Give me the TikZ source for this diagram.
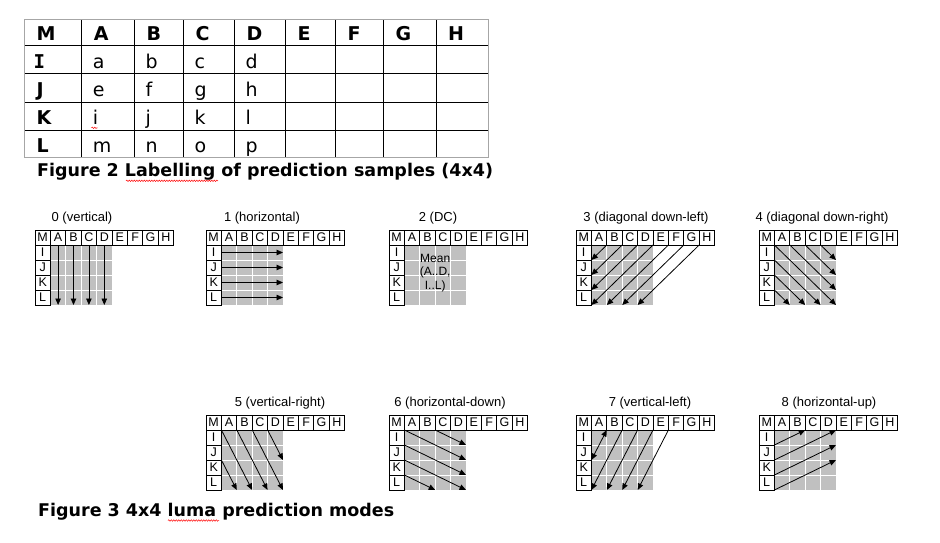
\documentclass[tikz,border=0pt]{standalone}
\usepackage{fontspec}
\setmainfont{DejaVu Sans}
\setmonofont{DejaVu Sans Mono}
\newfontfamily\arialf{Liberation Sans}
\usetikzlibrary{arrows.meta,decorations.pathmorphing,calc}
\definecolor{gridgray}{HTML}{C0C0C0}
\definecolor{framegray}{HTML}{A6A6A6}
\newcommand\cellw{15.4}
\newcommand\cellh{15}
\tikzset{
  gcell/.style={draw=black,line width=0.8pt,minimum width=\cellw pt,minimum height=\cellh pt,inner sep=0pt,font=\arialf\fontsize{12.5}{12.5}\selectfont},
  glabel/.style={inner sep=0pt,font=\arialf\fontsize{13}{13}\selectfont},
  parrow/.style={line width=0.8pt,-{Triangle[length=6.5pt,width=5.5pt]}},
  pboth/.style={line width=0.8pt,{Triangle[length=6.5pt,width=5.5pt]}-{Triangle[length=6.5pt,width=5.5pt]}},
  tline/.style={line width=1pt,black},
  hdr/.style={anchor=base west,inner sep=0pt,font=\bfseries\fontsize{19}{19}\selectfont},
  val/.style={anchor=base west,inner sep=0pt,font=\fontsize{19}{19}\selectfont},
  figcap/.style={anchor=base west,inner sep=0pt,font=\bfseries\fontsize{17.5}{17.5}\selectfont},
  squiggle/.style={red,line width=0.5pt,decorate,decoration={snake,amplitude=0.7pt,segment length=2.5pt}},
  predgrid/.pic={
    \fill[gridgray] (\cellw,\cellh) rectangle ({5*\cellw},{5*\cellh});
    \foreach \k in {2,3,4} {
      \draw[white,line width=0.9pt] ({\k*\cellw},\cellh) -- ({\k*\cellw},{5*\cellh});
      \draw[white,line width=0.9pt] (\cellw,{\k*\cellh}) -- ({5*\cellw},{\k*\cellh});
    }
    \foreach \l [count=\i from 0] in {M,A,B,C,D,E,F,G,H}
      \node[gcell] (-\l) at ({(\i+0.5)*\cellw},{0.5*\cellh}) {\l};
    \foreach \l [count=\j from 1] in {I,J,K,L}
      \node[gcell] (-\l) at ({0.5*\cellw},{(\j+0.5)*\cellh}) {\l};
    \foreach \i in {0,...,9} {\foreach \j in {0,...,5} {
      \coordinate (-p\i\j) at ({\i*\cellw},{\j*\cellh});
      \coordinate (-v\i\j) at ({(\i+0.5)*\cellw},{\j*\cellh});
      \coordinate (-h\i\j) at ({\i*\cellw},{(\j+0.5)*\cellh});
    }}
  }
}
\begin{document}
\begin{tikzpicture}[x=1pt,y=-1pt]
\useasboundingbox (0,0) rectangle (940,543);
% ---------- Figure 2 table ----------
\foreach \x in {81.7,134.3,183.3,234.3,285.3,335.3,383.3,436}
  \draw[tline] (\x,19.3) -- (\x,157.3);
\foreach \y in {46,74,102.3,130}
  \draw[tline] (24.3,\y) -- (488.3,\y);
\draw[framegray,line width=1pt] (24.3,19.3) rectangle (488.3,157.3);
\foreach \l/\x in {M/24.3,A/81.7,B/134.3,C/183.3,D/234.3,E/285.3,F/335.3,G/383.3,H/436}
  \node[hdr] (t-\l) at (\x+12,40.8) {\l};
\node[hdr,font=\ttfamily\bfseries\fontsize{19}{19}\selectfont] (t-I) at (33.5,68.6) {I};
\foreach \l/\y in {J/96.8,K/124.8,L/152.2}
  \node[hdr] (t-\l) at (36.3,\y) {\l};
\foreach \a/\b/\c/\d/\y in {a/b/c/d/68.6,e/f/g/h/96.8,i/j/k/l/124.8,m/n/o/p/152.2}{
  \node[val] (t-\a) at (92.7,\y) {\a};
  \node[val] (t-\b) at (145.3,\y) {\b};
  \node[val] (t-\c) at (194.3,\y) {\c};
  \node[val] (t-\d) at (245.3,\y) {\d};
}
\draw[squiggle] (91.5,127.8) -- (97.5,127.8);
\node[figcap] (cap2) at (37,176.7) {Figure 2 Labelling of prediction samples (4x4)};
\draw[squiggle] (126,180.8) -- (218,180.8);
% ---------- Figure 3 grids ----------
\pic (g0) at (35,230) {predgrid};
\pic (g1) at (206,230) {predgrid};
\pic (g2) at (389,230) {predgrid};
\pic (g3) at (576,230) {predgrid};
\pic (g4) at (759,230) {predgrid};
\pic (g5) at (206,415) {predgrid};
\pic (g6) at (389,415) {predgrid};
\pic (g7) at (576,415) {predgrid};
\pic (g8) at (759,415) {predgrid};
\node[glabel] (l0) at (82,218) {0 (vertical)};
\node[glabel] (l1) at (262,218) {1 (horizontal)};
\node[glabel] (l2) at (438,218) {2 (DC)};
\node[glabel] (l3) at (646,218) {3 (diagonal down-left)};
\node[glabel] (l4) at (822,218) {4 (diagonal down-right)};
\node[glabel] (l5) at (280,403.5) {5 (vertical-right)};
\node[glabel] (l6) at (450,403.5) {6 (horizontal-down)};
\node[glabel] (l7) at (650,403.5) {7 (vertical-left)};
\node[glabel] (l8) at (829,403.5) {8 (horizontal-up)};
% mode 0
\foreach \i in {1,2,3,4} \draw[parrow] (g0-v\i1) -- (g0-v\i5);
% mode 1
\foreach \j in {1,2,3,4} \draw[parrow] (g1-h1\j) -- (g1-h5\j);
% mode 2
\node[inner sep=0pt,align=center,font=\arialf\fontsize{12}{13.5}\selectfont] (g2-mean) at ($(g2-p11)!0.5!(g2-p55)+(0,-2)$) {Mean\\(A..D,\\I..L)};
% mode 3
\foreach \s/\e in {21/12,31/13,41/14,51/15,61/25,71/35,81/45} \draw[parrow] (g3-p\s) -- (g3-p\e);
% mode 4
\foreach \s/\e in {11/55,21/54,31/53,41/52,12/45,13/35,14/25} \draw[parrow] (g4-p\s) -- (g4-p\e);
% mode 5
\foreach \s/\e in {11/35,21/45,31/55,41/53,13/25} \draw[parrow] (g5-p\s) -- (g5-p\e);
% mode 6
\foreach \s/\e in {11/53,31/52,12/54,13/55,14/35} \draw[parrow] (g6-p\s) -- (g6-p\e);
% mode 7
\draw[pboth] (g7-p21) -- (g7-p13);
\foreach \s/\e in {31/15,41/25,51/35,61/45} \draw[parrow] (g7-p\s) -- (g7-p\e);
% mode 8
\foreach \s/\e in {12/31,13/51,14/52,15/53} \draw[parrow] (g8-p\s) -- (g8-p\e);
\node[figcap] (cap3) at (38,516.7) {Figure 3 4x4 luma prediction modes};
\draw[squiggle] (168,520.5) -- (219,520.5);
\end{tikzpicture}
\end{document}
